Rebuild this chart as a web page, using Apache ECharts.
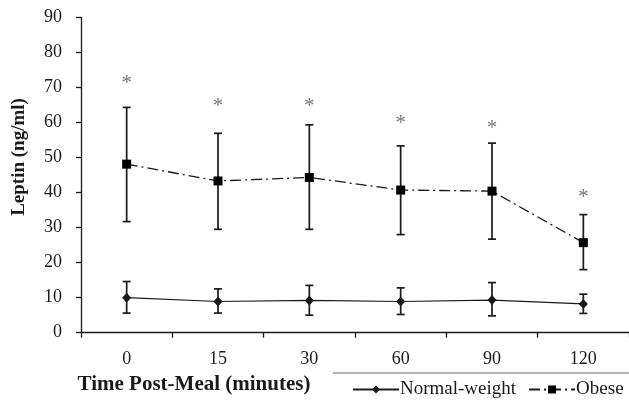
<!DOCTYPE html>
<html>
<head>
<meta charset="utf-8">
<script src="https://cdn.jsdelivr.net/npm/echarts@6/dist/echarts.min.js"></script>
<style>html,body{margin:0;padding:0;background:#fff;}#c{width:629px;height:402px;}</style>
</head>
<body>
<div id="c"></div>
<script>
const categories = ['0', '15', '30', '60', '90', '120'];
const normalMean = [10.0, 8.9, 9.2, 8.9, 9.3, 8.2];
const normalUpper = [14.6, 12.5, 13.5, 12.8, 14.3, 11.0];
const normalLower = [5.6, 5.6, 5.0, 5.2, 4.8, 5.5];
const obeseMean = [48.1, 43.3, 44.3, 40.7, 40.4, 25.7];
const obeseUpper = [64.3, 56.9, 59.3, 53.3, 54.1, 33.7];
const obeseLower = [31.7, 29.5, 29.5, 28.0, 26.7, 18.0];
const starLevels = [72.3, 65.6, 65.6, 60.7, 59.3, 39.8];
const yTicks = [0, 10, 20, 30, 40, 50, 60, 70, 80, 90];

const FONT = '"Liberation Serif", "Times New Roman", serif';
const INK = '#1a1a1a';

function errData(lo, hi) {
  return categories.map((c, i) => [i, lo[i], hi[i]]);
}
function errRender(params, api) {
  const x = api.value(0);
  const lo = api.coord([x, api.value(1)]);
  const hi = api.coord([x, api.value(2)]);
  const cap = 4;
  const st = { stroke: INK, lineWidth: 1.7 };
  return {
    type: 'group',
    children: [
      { type: 'line', shape: { x1: hi[0], y1: hi[1], x2: lo[0], y2: lo[1] }, style: st },
      { type: 'line', shape: { x1: hi[0] - cap, y1: hi[1], x2: hi[0] + cap, y2: hi[1] }, style: st },
      { type: 'line', shape: { x1: lo[0] - cap, y1: lo[1], x2: lo[0] + cap, y2: lo[1] }, style: st }
    ]
  };
}

const chart = echarts.init(document.getElementById('c'), null, { renderer: 'canvas' });
chart.setOption({
  animation: false,
  backgroundColor: '#fff',
  textStyle: { fontFamily: FONT },
  grid: { left: 81, top: 17.3, width: 550, height: 315.4, containLabel: false },
  legend: {
    left: 352, top: 380, width: 290, padding: 0, orient: 'horizontal',
    itemWidth: 46, itemHeight: 10, itemGap: 12,
    textStyle: { fontFamily: FONT, fontSize: 19, color: INK, padding: [0, 0, 0, -4] },
    data: ['Normal-weight', 'Obese']
  },
  xAxis: {
    type: 'category',
    data: categories,
    boundaryGap: true,
    name: 'Time Post-Meal (minutes)',
    nameLocation: 'middle',
    nameGap: 40,
    nameTextStyle: { fontFamily: FONT, fontWeight: 'bold', fontSize: 21, color: INK, padding: [0, 322, 0, 0] },
    axisLine: { lineStyle: { color: INK, width: 1.3 } },
    axisTick: { show: true, length: 5, inside: false, lineStyle: { color: INK, width: 1.3 } },
    axisLabel: { fontFamily: FONT, fontSize: 18, color: INK, margin: 18 },
    splitLine: { show: false }
  },
  yAxis: {
    type: 'value',
    min: 0, max: 90, interval: 10,
    name: 'Leptin (ng/ml)',
    nameLocation: 'middle',
    nameGap: 52,
    nameTextStyle: { fontFamily: FONT, fontWeight: 'bold', fontSize: 19, color: INK, padding: [0, 0, 0, 36] },
    axisLine: { show: true, lineStyle: { color: INK, width: 1.3 } },
    axisTick: { show: true, length: 5, lineStyle: { color: INK, width: 1.3 } },
    axisLabel: { fontFamily: FONT, fontSize: 18, color: INK, margin: 19,
      formatter: v => yTicks.includes(v) ? String(v) : '' },
    splitLine: { show: false }
  },
  graphic: [
    { type: 'line', shape: { x1: 333, y1: 373, x2: 629, y2: 373 }, style: { stroke: '#9a9a9a', lineWidth: 1.6 }, silent: true }
  ],
  series: [
    {
      name: 'Normal-weight', type: 'line', data: normalMean,
      symbol: 'diamond', symbolSize: [9, 10], z: 4,
      itemStyle: { color: INK }, lineStyle: { color: INK, width: 1.2, type: 'solid' }
    },
    {
      name: 'Obese', type: 'line', data: obeseMean,
      symbol: 'rect', symbolSize: 9, z: 4,
      itemStyle: { color: '#000' }, lineStyle: { color: INK, width: 1.3, type: [11, 4, 2, 4] }
    },
    { type: 'custom', name: 'nErr', data: errData(normalLower, normalUpper), renderItem: errRender, z: 3, silent: true },
    { type: 'custom', name: 'oErr', data: errData(obeseLower, obeseUpper), renderItem: errRender, z: 3, silent: true },
    {
      type: 'scatter', name: 'sig', data: starLevels, symbolSize: 1, itemStyle: { color: 'rgba(0,0,0,0)' },
      silent: true,
      label: { show: true, position: 'inside', formatter: '*', fontFamily: FONT, fontSize: 21, color: '#555', offset: [0, 4] }
    }
  ]
});
</script>
</body>
</html>
